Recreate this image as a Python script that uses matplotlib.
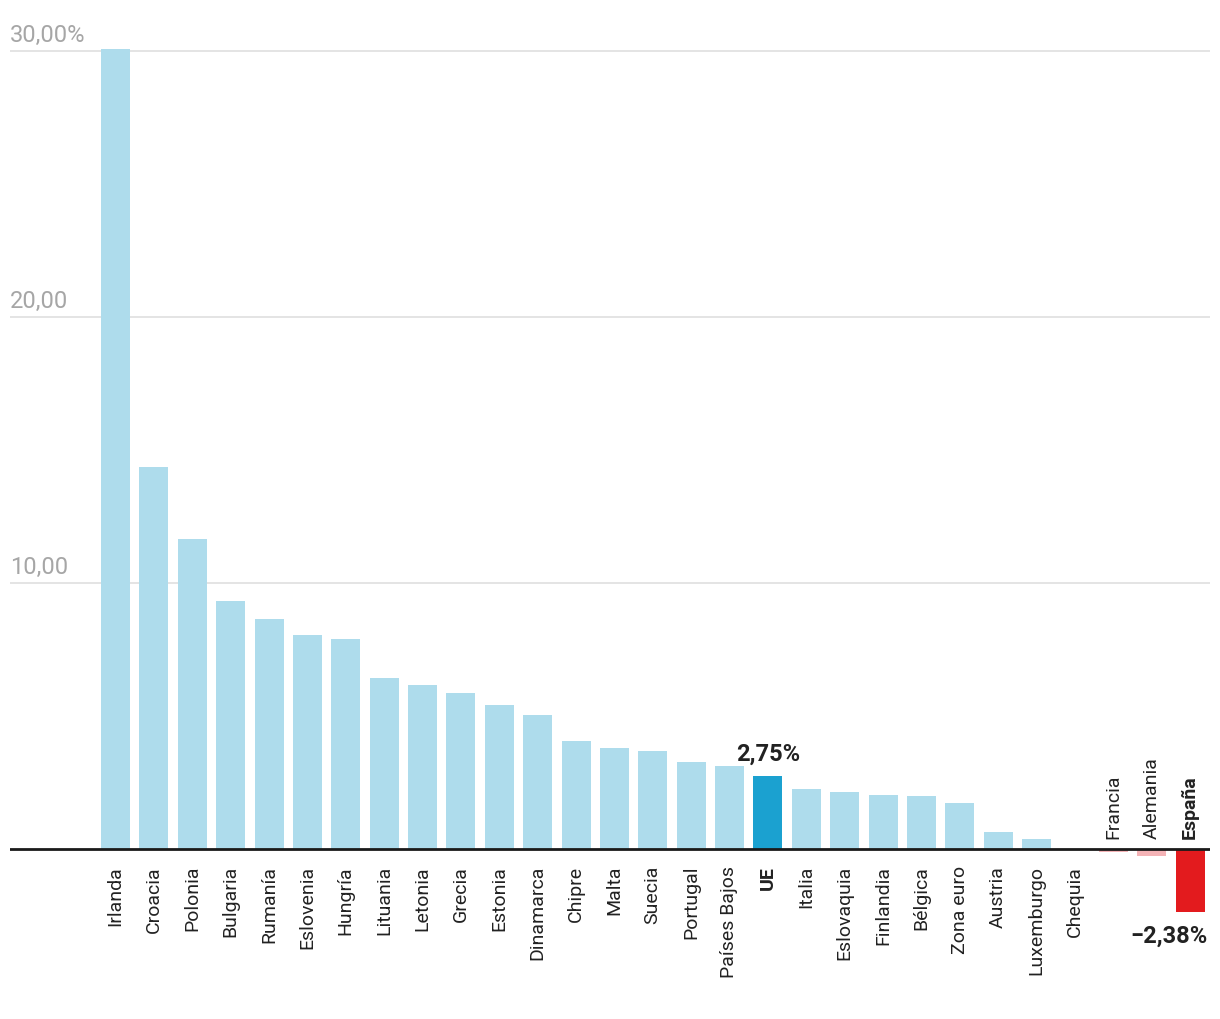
import matplotlib.pyplot as plt
from matplotlib import transforms

plt.rcParams['font.family'] = ['Roboto', 'DejaVu Sans']

paises = ['Irlanda', 'Croacia', 'Polonia', 'Bulgaria', 'Rumanía', 'Eslovenia', 'Hungría',
          'Lituania', 'Letonia', 'Grecia', 'Estonia', 'Dinamarca', 'Chipre', 'Malta',
          'Suecia', 'Portugal', 'Países Bajos', 'UE', 'Italia', 'Eslovaquia', 'Finlandia',
          'Bélgica', 'Zona euro', 'Austria', 'Luxemburgo', 'Chequia', 'Francia', 'Alemania',
          'España']
valores = [30.08, 14.36, 11.65, 9.32, 8.65, 8.05, 7.89,
           6.43, 6.17, 5.86, 5.41, 5.04, 4.06, 3.80,
           3.68, 3.27, 3.12, 2.75, 2.26, 2.14, 2.03,
           1.99, 1.73, 0.64, 0.38, 0.0, -0.1, -0.27,
           -2.38]
destacados = ['UE', 'España']
y_ticks = [10, 20, 30]
y_labels = ['10,00', '20,00', '30,00%']

W, H = 1220, 1020
fig = plt.figure(figsize=(W / 100, H / 100), dpi=100)
# y: 0 at px 850, 26.6 px per unit
ymin, ymax = -4, 31
px0, ppu = 850, 26.6
top_px = px0 - ymax * ppu
bot_px = px0 - ymin * ppu
ax = fig.add_axes([10 / W, 1 - bot_px / H, 1200 / W, (bot_px - top_px) / H])

step = 38.375
x0 = 115.5
ax.set_xlim((10 - x0) / step, (1210 - x0) / step)
ax.set_ylim(ymin, ymax)

colores = []
for p, v in zip(paises, valores):
    if p == 'UE':
        colores.append('#1ba1d0')
    elif p == 'España':
        colores.append('#e31b1e')
    elif v < 0:
        colores.append('#f4b3b6')
    else:
        colores.append('#aedcec')

xs = range(len(paises))
ax.bar(xs, valores, width=29 / step, color=colores, zorder=2)

for t in y_ticks:
    ax.axhline(t, color='#e2e2e2', lw=1.3, zorder=1)
ax.axhline(0, color='#1a1a1a', lw=2, zorder=3)

blend = transforms.blended_transform_factory(ax.transAxes, ax.transData)
for t, lab in zip(y_ticks, y_labels):
    ax.text(0.0, t + 0.2, lab, transform=blend,
            ha='left', va='bottom', fontsize=17, color='#a6a6a6')

for i, (p, v) in enumerate(zip(paises, valores)):
    w = 'bold' if p in destacados else 'normal'
    if v < 0:
        ax.text(i, 0.4, p, rotation=90, ha='center', va='bottom', fontsize=14,
                color='#222222', fontweight=w)
    else:
        ax.text(i, -0.6, p, rotation=90, ha='center', va='top', fontsize=14,
                color='#222222', fontweight=w)

i_ue = paises.index('UE')
ax.text(i_ue, valores[i_ue] + 0.4, '2,75%', ha='center', va='bottom', fontsize=17,
        fontweight='bold', color='#222222')
i_es = paises.index('España')
ax.text(0.998, valores[i_es] - 0.45, '\u22122,38%', transform=blend,
        ha='right', va='top', fontsize=17, fontweight='bold', color='#222222')

ax.axis('off')
fig.savefig('out.png', dpi=100)
